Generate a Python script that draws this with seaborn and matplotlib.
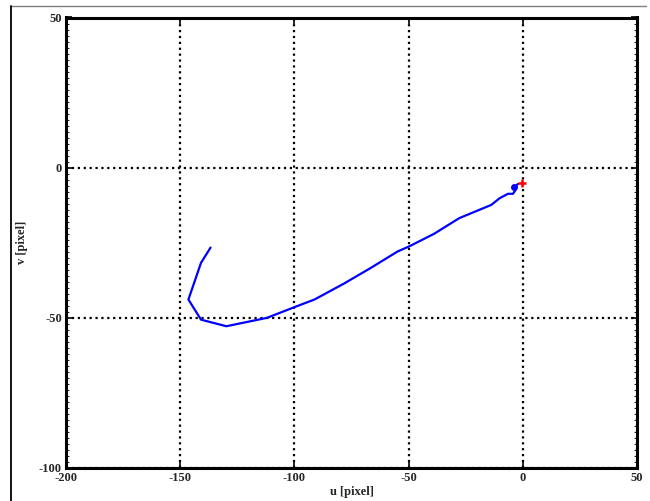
import matplotlib
matplotlib.use("Agg")
import matplotlib.pyplot as plt
import seaborn as sns
import pandas as pd
from matplotlib.lines import Line2D
from matplotlib.ticker import MultipleLocator

# trajectory (u, v) in pixels
u_vals = [-136.7, -140.9, -146.4, -140.9, -129.8, -112.0, -99.5, -91.2, -78.3, -66.6,
          -54.8, -49.7, -38.8, -27.8, -13.8, -10.2, -6.5, -4.3, -3.3, -3.3, -2.1]
v_vals = [-26.6, -31.7, -43.9, -50.6, -52.8, -50.0, -46.3, -43.9, -38.6, -33.4,
          -27.9, -26.2, -22.0, -16.8, -12.4, -10.2, -8.7, -8.7, -7.6, -6.3, -5.4]
start_u, start_v = [-3.9], [-6.3]
target_u, target_v = [-0.4], [-5.0]
x_ticks = [-200, -150, -100, -50, 0, 50]
y_ticks = [-100, -50, 0, 50]

sns.set_style("white")
plt.rcParams['font.family'] = ['Liberation Serif', 'DejaVu Serif']
plt.rcParams['font.weight'] = 'bold'

fig = plt.figure(figsize=(6.5, 5.01), dpi=100)
ax = fig.add_axes([66 / 650, 1 - 468 / 501, (637 - 66) / 650, (468 - 17.5) / 501])

df = pd.DataFrame({"u": u_vals, "v": v_vals})
sns.lineplot(data=df, x="u", y="v", sort=False, estimator=None, color="#0000ff",
             linewidth=1.6, ax=ax, zorder=3)
ax.plot(start_u, start_v, "o", color="#0000ff", markersize=4, zorder=4)
ax.plot(target_u, target_v, "+", color="#ff0000", markersize=6, markeredgewidth=1.8, zorder=5)

ax.set_xlim(-200, 50)
ax.set_ylim(-100, 50)
ax.set_xticks(x_ticks)
ax.set_yticks(y_ticks)
ax.set_xticklabels([str(t) for t in x_ticks], fontsize=9, fontweight='bold')
ax.set_yticklabels([str(t) for t in y_ticks], fontsize=9, fontweight='bold')
ax.yaxis.set_minor_locator(MultipleLocator(2))
ax.tick_params(axis='both', which='major', direction='in', length=4, width=1.2,
               color='black', pad=3, top=True, right=True, bottom=True, left=True)
ax.tick_params(axis='y', which='minor', direction='in', length=2.5, width=0.6,
               color='black', left=True, right=True)
ax.grid(True, which='major', color='black', linestyle=':', linewidth=1.6)
for s in ax.spines.values():
    s.set_visible(True)
    s.set_color('black')
    s.set_linewidth(2.2)

ax.set_xlabel("u [pixel]", fontsize=9, fontweight='bold', labelpad=1)
ax.set_ylabel("v [pixel]", fontsize=9, fontweight='bold', labelpad=8)

# figure frame (cropped)
fig.add_artist(Line2D([11 / 650, 646 / 650], [1 - 5.5 / 501, 1 - 5.5 / 501],
                      transform=fig.transFigure, color='#808080', linewidth=1))
fig.add_artist(Line2D([11 / 650, 11 / 650], [0, 1 - 5.5 / 501],
                      transform=fig.transFigure, color='black', linewidth=1.3))

fig.savefig("out.png", dpi=100)
